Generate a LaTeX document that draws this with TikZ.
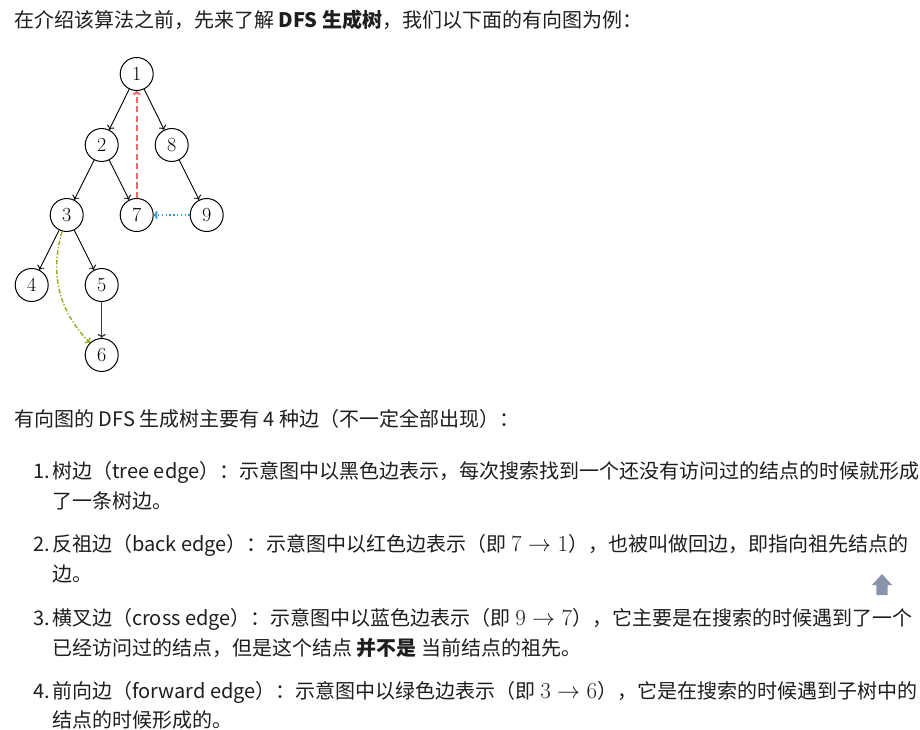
\RequirePackage{fix-cm}
\documentclass[tikz,border=0pt]{standalone}
\usepackage{fontspec}
\setmainfont{Noto Sans CJK SC}
\usetikzlibrary{arrows.meta}
\definecolor{textcol}{RGB}{30,30,30}
\definecolor{backred}{RGB}{232,106,106}
\definecolor{crossblue}{RGB}{40,150,235}
\definecolor{fwdgreen}{RGB}{140,176,28}
\definecolor{topicon}{RGB}{137,147,170}
\tikzset{
  >={To[length=4pt,width=8pt]},
  vertex/.style={draw, circle, minimum size=33pt, inner sep=0pt, line width=1pt, font=\fontsize{20}{20}\selectfont},
  treeedge/.style={->, line width=0.9pt},
  backedge/.style={->, line width=2pt, backred, dash pattern=on 6pt off 3.5pt},
  crossedge/.style={->, line width=1.8pt, crossblue, dash pattern=on 1.4pt off 2.4pt},
  fwdedge/.style={->, line width=1.4pt, fwdgreen, dash pattern=on 4.5pt off 2pt on 1.2pt off 2pt},
  txt/.style={anchor=base west, inner sep=0pt, text=textcol, font=\fontsize{20}{24}\selectfont},
}
\newcommand{\itemx}{33}
\newcommand{\bodyx}{52}
\newcommand{\bigmath}[1]{{\fontsize{23}{24}\selectfont$#1$}}

\begin{document}
\begin{tikzpicture}[x=1pt, y=-1pt]
  \fill[white] (0,0) rectangle (920,730);
  \useasboundingbox (0,0) rectangle (920,730);

  \node[txt] (intro) at (14,28) {在介绍该算法之前，先来了解 \textbf{DFS 生成树}，我们以下面的有向图为例：};

  % the tree
  \node[vertex] (n1) at (136.7,74) {$1$};
  \node[vertex] (n2) at (101.7,145) {$2$};
  \node[vertex] (n8) at (171.7,145) {$8$};
  \node[vertex] (n3) at (66.7,215) {$3$};
  \node[vertex] (n7) at (136.7,215) {$7$};
  \node[vertex] (n9) at (206.7,215) {$9$};
  \node[vertex] (n4) at (31.7,285) {$4$};
  \node[vertex] (n5) at (101.7,285) {$5$};
  \node[vertex] (n6) at (101.7,355) {$6$};

  \draw[treeedge] (n1) -- (n2);
  \draw[treeedge] (n1) -- (n8);
  \draw[treeedge] (n2) -- (n3);
  \draw[treeedge] (n2) -- (n7);
  \draw[treeedge] (n8) -- (n9);
  \draw[treeedge] (n3) -- (n4);
  \draw[treeedge] (n3) -- (n5);
  \draw[treeedge, line width=1.3pt, black!75] (n5) -- (n6);
  \draw[backedge] (n7) -- (n1);
  \draw[crossedge] (n9) -- (n7);
  \draw[fwdedge] (n3) to[bend right=30] (n6);

  % the list
  \node[txt] (kinds) at (14,426) {有向图的 DFS 生成树主要有 4 种边（不一定全部出现）：};

  \node[txt] (num1) at (\itemx,478) {1.};
  \node[txt] (item1a) at (\bodyx,478) {树边（tree edge）：示意图中以黑色边表示，每次搜索找到一个还没有访问过的结点的时候就形成};
  \node[txt] (item1b) at (\bodyx,508) {了一条树边。};

  \node[txt] (num2) at (\itemx,551) {2.};
  \node[txt] (item2a) at (\bodyx,551) {反祖边（back edge）：示意图中以红色边表示（即 \bigmath{7 \to 1}），也被叫做回边，即指向祖先结点的};
  \node[txt] (item2b) at (\bodyx,581) {边。};

  \node[txt] (num3) at (\itemx,625) {3.};
  \node[txt] (item3a) at (\bodyx,625) {横叉边（cross edge）：示意图中以蓝色边表示（即 \bigmath{9 \to 7}），它主要是在搜索的时候遇到了一个};
  \node[txt] (item3b) at (\bodyx,655) {已经访问过的结点，但是这个结点 \textbf{并不是} 当前结点的祖先。};

  \node[txt] (num4) at (\itemx,698) {4.};
  \node[txt] (item4a) at (\bodyx,698) {前向边（forward edge）：示意图中以绿色边表示（即 \bigmath{3 \to 6}），它是在搜索的时候遇到子树中的};
  \node[txt] (item4b) at (\bodyx,727) {结点的时候形成的。};

  % back-to-top icon
  \fill[topicon] (882,574) -- (892,585) -- (887.7,585) -- (887.7,595) -- (876.3,595) -- (876.3,585) -- (872,585) -- cycle;
\end{tikzpicture}
\end{document}
